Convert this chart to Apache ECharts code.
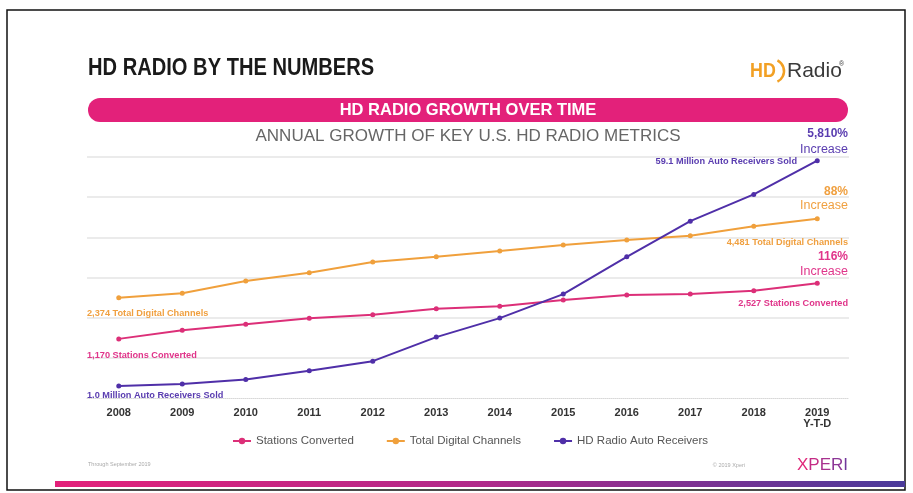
<!DOCTYPE html>
<html><head><meta charset="utf-8">
<script src="https://cdn.jsdelivr.net/npm/echarts@6/dist/echarts.min.js"></script>
<style>html,body{margin:0;padding:0;background:#fff}#c{width:913px;height:493px}</style>
</head><body><div id="c"></div>
<script>
const years = ['2008','2009','2010','2011','2012','2013','2014','2015','2016','2017','2018','2019\nY-T-D'];
const stationsConverted = [1170,1380,1525,1670,1760,1905,1965,2115,2240,2265,2345,2527];
const totalDigitalChannels = [2374,2492,2820,3042,3327,3468,3620,3780,3914,4028,4279,4481];
const autoReceivers = [1.0,1.5,2.7,4.9,7.4,13.6,18.5,24.7,34.3,43.5,50.4,59.1];
const seriesNames = ['Stations Converted','Total Digital Channels','HD Radio Auto Receivers'];
const colors = ['#dc2f78','#f0a03c','#4f2fa8'];
const SANS = '"Liberation Sans",Arial,sans-serif';

const chart = echarts.init(document.getElementById('c'), null, {renderer:'canvas'});

function mkSeries(i, data){
  return {
    name: seriesNames[i], type:'line', data: data, yAxisIndex: i+1,
    symbol:'circle', symbolSize:5, showSymbol:true,
    lineStyle:{color:colors[i], width:2},
    itemStyle:{color:colors[i]},
    emphasis:{disabled:true}, animation:false, z: 3
  };
}
function txt(x,y,text,size,color,opts,extra){
  return Object.assign({type:'text', x:x, y:y, style:Object.assign({text:text, fontSize:size, fill:color, fontFamily:SANS, fontWeight:'bold', textAlign:'left', textVerticalAlign:'middle'}, opts||{}) , z:10}, extra||{});
}

chart.setOption({
  animation:false,
  grid:{left:87, width:762, top:157, height:241, containLabel:false},
  xAxis:{type:'category', data:years, boundaryGap:true,
    axisLine:{show:true, lineStyle:{color:'#d8d8d8', type:'dotted', width:1}},
    axisTick:{show:false},
    axisLabel:{color:'#333', fontFamily:SANS, fontWeight:'bold', fontSize:11, margin:9, lineHeight:11, interval:0},
    splitLine:{show:false}},
  yAxis:[
    {type:'value', min:0, max:6, interval:1, axisLabel:{show:false}, axisLine:{show:false}, axisTick:{show:false},
      splitLine:{show:true, showMinLine:false, lineStyle:{color:'#ebebeb', width:2}}},
    {type:'value', min:-270, max:5600, show:false, splitLine:{show:false}},
    {type:'value', min:-300, max:6127, show:false, splitLine:{show:false}},
    {type:'value', min:-2.1, max:60.05, show:false, splitLine:{show:false}}
  ],
  legend:{show:true, top:430, left:227, itemWidth:18, itemHeight:8, itemGap:32,
    data:seriesNames, textStyle:{color:'#555', fontFamily:SANS, fontSize:11.5}, selectedMode:false},
  series:[mkSeries(0, stationsConverted), mkSeries(1, totalDigitalChannels), mkSeries(2, autoReceivers)],
  graphic:[
    {type:'rect', shape:{x:7, y:10, width:898, height:480}, style:{fill:'none', stroke:'#111', lineWidth:1.5}, z:1},
    txt(88, 69, 'HD RADIO BY THE NUMBERS', 23, '#1a1a1a', {}, {scaleX:0.875}),
    {type:'rect', shape:{x:88, y:98, width:760, height:24, r:12}, style:{fill:'#e3217a'}, z:5},
    txt(468, 110.5, 'HD RADIO GROWTH OVER TIME', 16.5, '#ffffff', {textAlign:'center'}),
    txt(468, 136, 'ANNUAL GROWTH OF KEY U.S. HD RADIO METRICS', 17, '#666666', {textAlign:'center', fontWeight:'normal'}),
    // logo
    txt(750, 71, 'H', 21, '#f2a024', {}, {scaleX:0.85}),
    txt(763, 71, 'D', 21, '#f2a024', {}, {scaleX:0.85}),
    {type:'arc', shape:{cx:772, cy:71, r:12, startAngle:-1.1, endAngle:1.1}, style:{stroke:'#f2a024', lineWidth:2.5, fill:'none'}, z:10},
    txt(787, 71, 'Radio', 21, '#3a3a3a', {fontWeight:'normal'}),
    txt(839, 64, '®', 7, '#3a3a3a', {fontWeight:'normal'}),
    // annotations right
    txt(848, 134, '5,810%', 12, '#5a3db0', {textAlign:'right'}),
    txt(848, 150, 'Increase', 12.5, '#5a3db0', {textAlign:'right', fontWeight:'normal'}),
    txt(797, 161.5, '59.1 Million Auto Receivers Sold', 9.2, '#5a3db0', {textAlign:'right'}),
    txt(848, 192, '88%', 12, '#f0a040', {textAlign:'right'}),
    txt(848, 206, 'Increase', 12.5, '#f0a040', {textAlign:'right', fontWeight:'normal'}),
    txt(848, 242.5, '4,481 Total Digital Channels', 9.2, '#f0a040', {textAlign:'right'}),
    txt(848, 257, '116%', 12, '#e0358a', {textAlign:'right'}),
    txt(848, 272, 'Increase', 12.5, '#e0358a', {textAlign:'right', fontWeight:'normal'}),
    txt(848, 303, '2,527 Stations Converted', 9.2, '#e0358a', {textAlign:'right'}),
    // annotations left
    txt(87, 313.5, '2,374 Total Digital Channels', 9.2, '#f0a040'),
    txt(87, 355.5, '1,170 Stations Converted', 9.2, '#e0358a'),
    txt(87, 395.5, '1.0 Million Auto Receivers Sold', 9.2, '#5a3db0'),
    // footer
    txt(88, 464, 'Through September 2019', 5.5, '#aaaaaa', {fontWeight:'normal'}),
    txt(745, 465, '© 2019 Xperi', 5.5, '#aaaaaa', {textAlign:'right', fontWeight:'normal'}),
    {type:'text', x:848, y:465, z:10, style:{text:'{a|X}{b|P}{c|E}{d|R}{e|I}', textAlign:'right', textVerticalAlign:'middle',
      rich:{a:{fontSize:17, fill:'#e0287a', fontFamily:SANS}, b:{fontSize:17, fill:'#c42c85', fontFamily:SANS},
            c:{fontSize:17, fill:'#a8328f', fontFamily:SANS}, d:{fontSize:17, fill:'#8c3696', fontFamily:SANS}, e:{fontSize:17, fill:'#70389c', fontFamily:SANS}}}},
    {type:'rect', shape:{x:55, y:481, width:850, height:6}, style:{fill:new echarts.graphic.LinearGradient(0,0,1,0,[{offset:0,color:'#e3217a'},{offset:0.5,color:'#b02a8a'},{offset:1,color:'#4a3a9a'}])}, z:10}
  ]
});
</script></body></html>
